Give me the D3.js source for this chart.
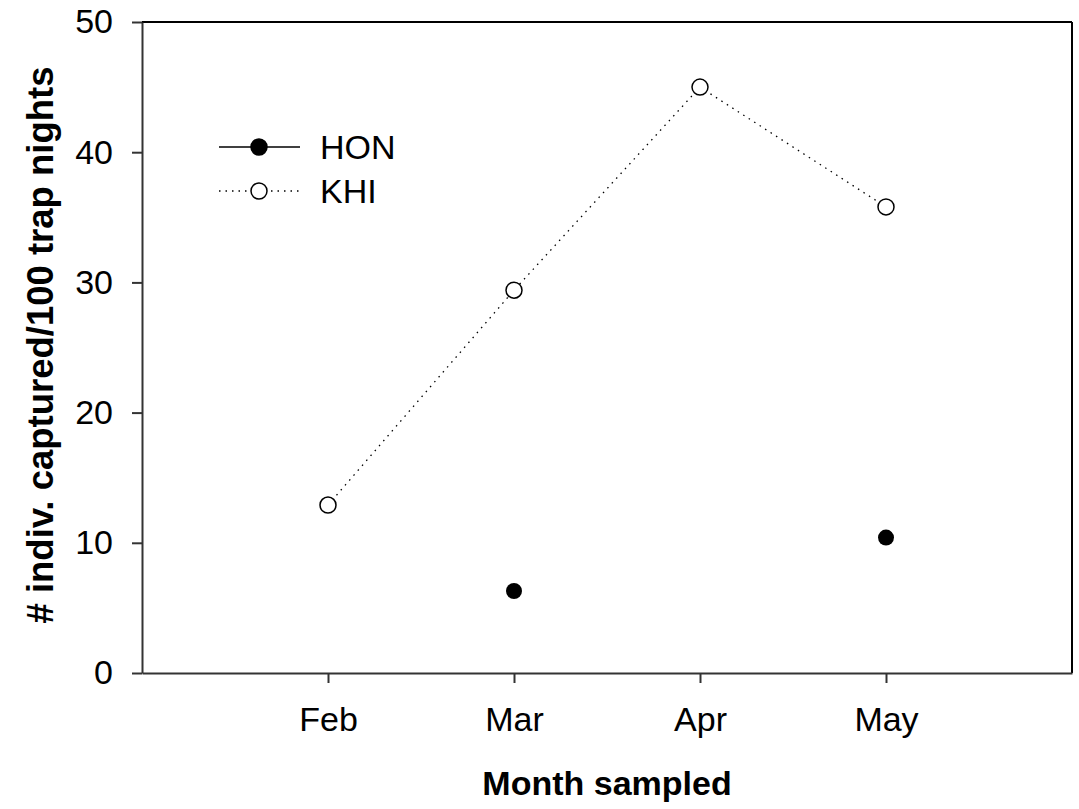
<!DOCTYPE html>
<html>
<head>
<meta charset="utf-8">
<script src="https://cdn.jsdelivr.net/npm/d3@7"></script>
<style>
  body { margin: 0; background: #fff; }
  svg { font-family: "Liberation Sans", Arial, sans-serif; }
</style>
</head>
<body>
<div id="chart"></div>
<script>
// data
const months = ["Feb", "Mar", "Apr", "May"];
const honValues = [null, 6.3, null, 10.4];
const khiValues = [12.9, 29.4, 45.0, 35.8];
const yTicks = [0, 10, 20, 30, 40, 50];

const width = 1079, height = 809;
const margin = { left: 142, right: 7, top: 22, bottom: 136 };

const svg = d3.select("#chart").append("svg")
    .attr("width", width)
    .attr("height", height);

// x positions: months sit at 1..4 on a 0..5 range
const x = d3.scaleLinear()
    .domain([0, months.length + 1])
    .range([margin.left, width - margin.right]);

const y = d3.scaleLinear()
    .domain([0, 50])
    .range([height - margin.bottom, margin.top]);

// frame (top and right)
svg.append("line")
    .attr("x1", x(0)).attr("x2", x(5))
    .attr("y1", y(50)).attr("y2", y(50))
    .attr("stroke", "#000").attr("stroke-width", 2);
svg.append("line")
    .attr("x1", x(5)).attr("x2", x(5))
    .attr("y1", y(50)).attr("y2", y(0))
    .attr("stroke", "#000").attr("stroke-width", 2);

// y axis
const yAxis = svg.append("g")
    .attr("transform", `translate(${x(0)},0)`)
    .call(d3.axisLeft(y).tickValues(yTicks).tickSize(10).tickPadding(19).tickSizeOuter(0));
yAxis.attr("font-size", null).attr("font-family", null);
yAxis.selectAll("text").style("font-size", "34px").attr("fill", "#000");
yAxis.selectAll("line, path").attr("stroke", "#333").attr("stroke-width", 2);

// x axis
const xAxis = svg.append("g")
    .attr("transform", `translate(0,${y(0)})`)
    .call(d3.axisBottom(x).tickValues(d3.range(1, months.length + 1))
        .tickFormat(i => months[i - 1]).tickSize(10).tickPadding(24).tickSizeOuter(0));
xAxis.attr("font-size", null).attr("font-family", null);
xAxis.selectAll("text").style("font-size", "34px").attr("fill", "#000");
xAxis.selectAll("line, path").attr("stroke", "#333").attr("stroke-width", 2);

// axis titles
svg.append("text")
    .attr("x", 607).attr("y", 795)
    .attr("text-anchor", "middle")
    .style("font-size", "34px").attr("font-weight", "bold")
    .text("Month sampled");

svg.append("text")
    .attr("transform", "translate(53,345) rotate(-90)")
    .attr("text-anchor", "middle")
    .style("font-size", "36.5px").attr("font-weight", "bold")
    .text("# indiv. captured/100 trap nights");

// KHI dotted line
const khiPts = khiValues.map((v, i) => ({ i: i + 1, v: v }));
const line = d3.line().x(d => x(d.i)).y(d => y(d.v));
svg.append("path")
    .datum(khiPts)
    .attr("d", line)
    .attr("fill", "none")
    .attr("stroke", "#000")
    .attr("stroke-width", 1.3)
    .attr("stroke-dasharray", "1.5,5");

svg.selectAll(".khi")
    .data(khiPts)
    .enter().append("circle")
    .attr("class", "khi")
    .attr("cx", d => x(d.i))
    .attr("cy", d => y(d.v))
    .attr("r", 8)
    .attr("fill", "#fff")
    .attr("stroke", "#000")
    .attr("stroke-width", 1.5);

// HON: solid line only joins consecutive months, so nothing is drawn here
const honAll = honValues.map((v, i) => ({ i: i + 1, v: v }));
svg.append("path")
    .datum(honAll)
    .attr("d", d3.line().defined(d => d.v !== null).x(d => x(d.i)).y(d => y(d.v)))
    .attr("fill", "none")
    .attr("stroke", "#000")
    .attr("stroke-width", 1.5);

svg.selectAll(".hon")
    .data(honAll.filter(d => d.v !== null))
    .enter().append("circle")
    .attr("class", "hon")
    .attr("cx", d => x(d.i))
    .attr("cy", d => y(d.v))
    .attr("r", 8)
    .attr("fill", "#000");

// legend
const legendData = [
    { label: "HON", dash: null, fill: "#000" },
    { label: "KHI", dash: "1.5,5", fill: "#fff" }
];
const legend = svg.append("g")
    .selectAll("g")
    .data(legendData)
    .enter().append("g")
    .attr("transform", (d, i) => `translate(219,${147 + i * 44})`);

legend.append("line")
    .attr("x1", 0).attr("x2", 81)
    .attr("stroke", "#000")
    .attr("stroke-width", d => d.dash ? 1.3 : 1.5)
    .attr("stroke-dasharray", d => d.dash);

legend.append("circle")
    .attr("cx", 40).attr("r", 8)
    .attr("fill", d => d.fill)
    .attr("stroke", "#000").attr("stroke-width", 1.5);

legend.append("text")
    .attr("x", 101).attr("y", 12)
    .style("font-size", "34px")
    .text(d => d.label);
</script>
</body>
</html>
